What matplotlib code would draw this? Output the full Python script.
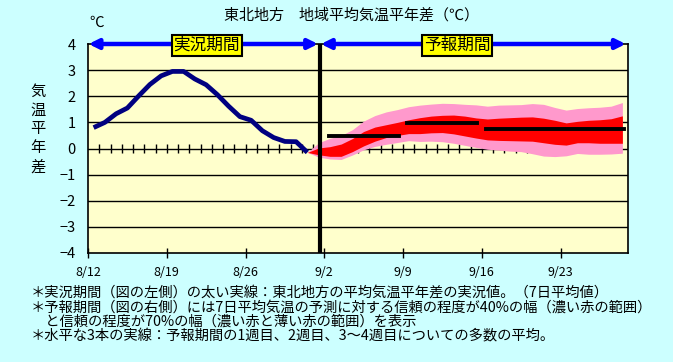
import matplotlib
matplotlib.use('Agg')
import matplotlib.pyplot as plt
import numpy as np

plt.rcParams['font.family'] = ['Noto Sans CJK JP', 'DejaVu Sans']

# x axis: days counted from 8/12
date_labels = ['8/12', '8/19', '8/26', '9/2', '9/9', '9/16', '9/23']
date_pos = [0, 7, 14, 21, 28, 35, 42]

# observed 7-day mean anomaly (daily, drawn at mid-day)
obs_days = np.arange(0.5, 20.0, 1.0)
obs_vals = [0.80, 1.00, 1.33, 1.55, 2.01, 2.45, 2.78, 2.95, 2.95, 2.66,
            2.44, 2.06, 1.62, 1.22, 1.08, 0.68, 0.42, 0.27, 0.26, -0.15]

# forecast ranges: 70% (pink) and 40% (red)
fc_days = np.arange(19.5, 48.0, 1.0)
pink_hi = [-0.15, 0.22, 0.39, 0.50, 0.72, 1.05, 1.26, 1.40, 1.49, 1.60,
           1.66, 1.70, 1.73, 1.72, 1.69, 1.67, 1.62, 1.66, 1.67, 1.68,
           1.72, 1.69, 1.57, 1.47, 1.53, 1.56, 1.58, 1.62, 1.76]
red_hi = [-0.15, 0.02, 0.07, 0.17, 0.38, 0.65, 0.82, 0.91, 1.00, 1.10,
          1.18, 1.24, 1.27, 1.28, 1.24, 1.17, 1.13, 1.16, 1.18, 1.20,
          1.21, 1.16, 1.08, 0.98, 1.04, 1.08, 1.10, 1.14, 1.25]
red_lo = [-0.15, -0.24, -0.30, -0.30, -0.12, 0.10, 0.28, 0.42, 0.50, 0.57,
          0.57, 0.60, 0.61, 0.56, 0.48, 0.40, 0.33, 0.31, 0.30, 0.29,
          0.28, 0.22, 0.16, 0.13, 0.22, 0.22, 0.20, 0.20, 0.20]
pink_lo = [-0.15, -0.33, -0.40, -0.42, -0.25, -0.05, 0.08, 0.16, 0.23, 0.30,
           0.27, 0.28, 0.26, 0.20, 0.12, 0.04, -0.03, -0.06, -0.10, -0.12,
           -0.20, -0.29, -0.31, -0.28, -0.19, -0.22, -0.22, -0.21, -0.18]

# ensemble mean for week 1, week 2, weeks 3-4
week_start = [21.4, 28.35, 35.4]
week_end = [27.6, 34.6, 47.6]
week_mean = [0.49, 0.99, 0.74]

split_day = 20.6   # boundary between observed and forecast period

notes = [
    '＊実況期間（図の左側）の太い実線：東北地方の平均気温平年差の実況値。（7日平均値）',
    '＊予報期間（図の右側）には7日平均気温の予測に対する信頼の程度が40%の幅（濃い赤の範囲）',
    '　と信頼の程度が70%の幅（濃い赤と薄い赤の範囲）を表示',
    '＊水平な3本の実線：予報期間の1週目、2週目、3～4週目についての多数の平均。',
]

fig = plt.figure(figsize=(6.73, 3.62), dpi=100, facecolor='#CCFFFF')
ax = fig.add_axes([88 / 673, 1 - 253 / 362, 540 / 673, 209 / 362])
ax.set_facecolor('#FFFFCC')

ax.set_xlim(0, 48)
ax.set_ylim(-4, 4)

# horizontal grid
for v in range(-3, 4):
    ax.axhline(v, color='black', lw=1.0, zorder=1)

# daily ticks on the zero line
ax.vlines(np.arange(1, 48), -0.19, 0.19, color='black', lw=1.0, zorder=1)

# forecast bands
ax.fill_between(fc_days, pink_lo, pink_hi, color='#FF99CC', lw=0, zorder=2)
ax.fill_between(fc_days, red_lo, red_hi, color='#FF0000', lw=0, zorder=3)

# observed line
ax.plot(obs_days, obs_vals, color='#000080', lw=3.4, zorder=4,
        solid_capstyle='butt')

# weekly means
for s, e, m in zip(week_start, week_end, week_mean):
    ax.plot([s, e], [m, m], color='black', lw=2.8, zorder=5)

ax.axvline(split_day, color='black', lw=3.0, zorder=6)

# period arrows along the top
arrow = dict(arrowstyle='<|-|>', color='#0000FF', lw=3.2, mutation_scale=14,
             shrinkA=0, shrinkB=0)
ax.annotate('', xy=(0.05, 4), xytext=(split_day - 0.15, 4),
            arrowprops=arrow, annotation_clip=False, zorder=7)
ax.annotate('', xy=(split_day + 0.1, 4), xytext=(47.8, 4),
            arrowprops=arrow, annotation_clip=False, zorder=7)

box = dict(boxstyle='square,pad=0.12', facecolor='#FFFF00', edgecolor='black', lw=1.5)
ax.text(10.56, 3.96, '実況期間', ha='center', va='center', fontsize=12,
        bbox=box, zorder=8)
ax.text(32.8, 3.96, '予報期間', ha='center', va='center', fontsize=12,
        bbox=box, zorder=8)

# axes styling
ax.set_xticks(date_pos)
ax.set_xticklabels(date_labels, fontsize=9)
ax.tick_params(axis='x', direction='inout', length=6.5, width=1.0, pad=6)
ax.set_yticks(range(-4, 5))
ax.set_yticklabels([str(v).replace('-', '−') for v in range(-4, 5)], fontsize=10.5)
ax.tick_params(axis='y', length=0, pad=9)
for sp in ax.spines.values():
    sp.set_linewidth(1.2)
    sp.set_color('black')

# texts
fig.text(351 / 673, 1 - 15 / 362, '東北地方　地域平均気温平年差（℃）',
         ha='center', va='center', fontsize=10.8)
fig.text(97 / 673, 1 - 23 / 362, '℃', ha='center', va='center', fontsize=10.5)
fig.text(38 / 673, 1 - 129 / 362, '気\n温\n平\n年\n差', ha='center', va='center',
         fontsize=11, linespacing=1.15)

for i, line in enumerate(notes):
    fig.text(31 / 673, 1 - (293 + 14.4 * i) / 362, line, ha='left', va='center',
             fontsize=10.3)

fig.savefig('out.png', dpi=100, facecolor=fig.get_facecolor())
